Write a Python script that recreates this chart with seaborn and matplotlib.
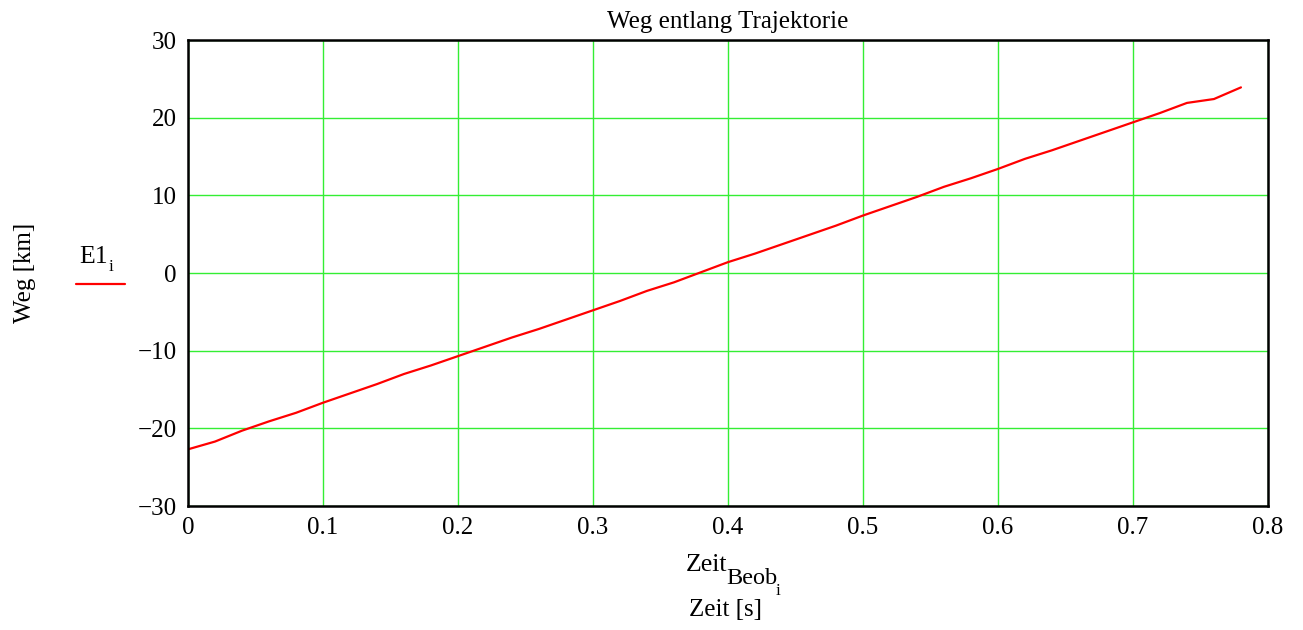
import numpy as np
import pandas as pd
import matplotlib
matplotlib.use("Agg")
import matplotlib.pyplot as plt
import seaborn as sns
from matplotlib.lines import Line2D

# Zeitpunkte der Beobachtung [s] und Weg entlang der Trajektorie [km]
zeit_beob = [0.00, 0.02, 0.04, 0.06, 0.08, 0.10, 0.12, 0.14, 0.16, 0.18,
             0.20, 0.22, 0.24, 0.26, 0.28, 0.30, 0.32, 0.34, 0.36, 0.38,
             0.40, 0.42, 0.44, 0.46, 0.48, 0.50, 0.52, 0.54, 0.56, 0.58,
             0.60, 0.62, 0.64, 0.66, 0.68, 0.70, 0.72, 0.74, 0.76, 0.78]
weg_e1 = [-22.7, -21.7, -20.3, -19.1, -18.0, -16.7, -15.5, -14.3, -13.0, -11.9,
          -10.7, -9.5, -8.3, -7.2, -6.0, -4.8, -3.6, -2.3, -1.2, 0.1,
          1.4, 2.5, 3.7, 4.9, 6.1, 7.4, 8.6, 9.8, 11.1, 12.2,
          13.4, 14.7, 15.8, 17.0, 18.2, 19.4, 20.6, 21.9, 22.4, 23.9]

x_ticks = [0, 0.1, 0.2, 0.3, 0.4, 0.5, 0.6, 0.7, 0.8]
x_labels = ["0", "0.1", "0.2", "0.3", "0.4", "0.5", "0.6", "0.7", "0.8"]
y_ticks = [-30, -20, -10, 0, 10, 20, 30]
y_labels = ["\u221230", "\u221220", "\u221210", "0", "10", "20", "30"]

df = pd.DataFrame({"zeit": zeit_beob, "weg": weg_e1})

sns.set_style("white")
plt.rcParams["font.family"] = ["Liberation Serif", "DejaVu Serif"]
plt.rcParams["text.color"] = "black"
plt.rcParams["xtick.color"] = "black"
plt.rcParams["ytick.color"] = "black"

fig = plt.figure(figsize=(13.03, 6.30), dpi=100)
ax = fig.add_axes([0.1443, 0.1968, 0.8288, 0.7397])

sns.lineplot(data=df, x="zeit", y="weg", ax=ax, color="red", lw=1.6)

ax.set_xlim(0, 0.8)
ax.set_ylim(-30, 30)
ax.set_xticks(x_ticks)
ax.set_xticklabels(x_labels)
ax.set_yticks(y_ticks)
ax.set_yticklabels(y_labels)
ax.tick_params(length=0, labelsize=18, pad=8)
ax.grid(True, color="#33ee33", lw=1)
for s in ax.spines.values():
    s.set_color("black")
    s.set_linewidth(1.8)
ax.set_xlabel("")
ax.set_ylabel("")

ax.set_title("Weg entlang Trajektorie", fontsize=18, pad=9)

# Achsenbeschriftung y und Legende links
fig.text(0.019, 0.567, "Weg [km]", rotation=90, fontsize=18, ha="center", va="center")
fig.text(0.0605, 0.592, "E1", fontsize=18.5, ha="left", va="center")
fig.text(0.0835, 0.576, "i", fontsize=12.5, ha="left", va="center")
fig.add_artist(Line2D([0.058, 0.096], [0.549, 0.549], color="red", lw=1.6,
                      transform=fig.transFigure))

# Achsenbeschriftung x mit Indizes
fig.text(0.5265, 0.103, "Zeit", fontsize=18.5, ha="left", va="center")
fig.text(0.5575, 0.081, "Beob", fontsize=17.5, ha="left", va="center")
fig.text(0.5955, 0.062, "i", fontsize=12.5, ha="left", va="center")
fig.text(0.5565, 0.031, "Zeit [s]", fontsize=18, ha="center", va="center")

fig.savefig("out.png", dpi=100)
